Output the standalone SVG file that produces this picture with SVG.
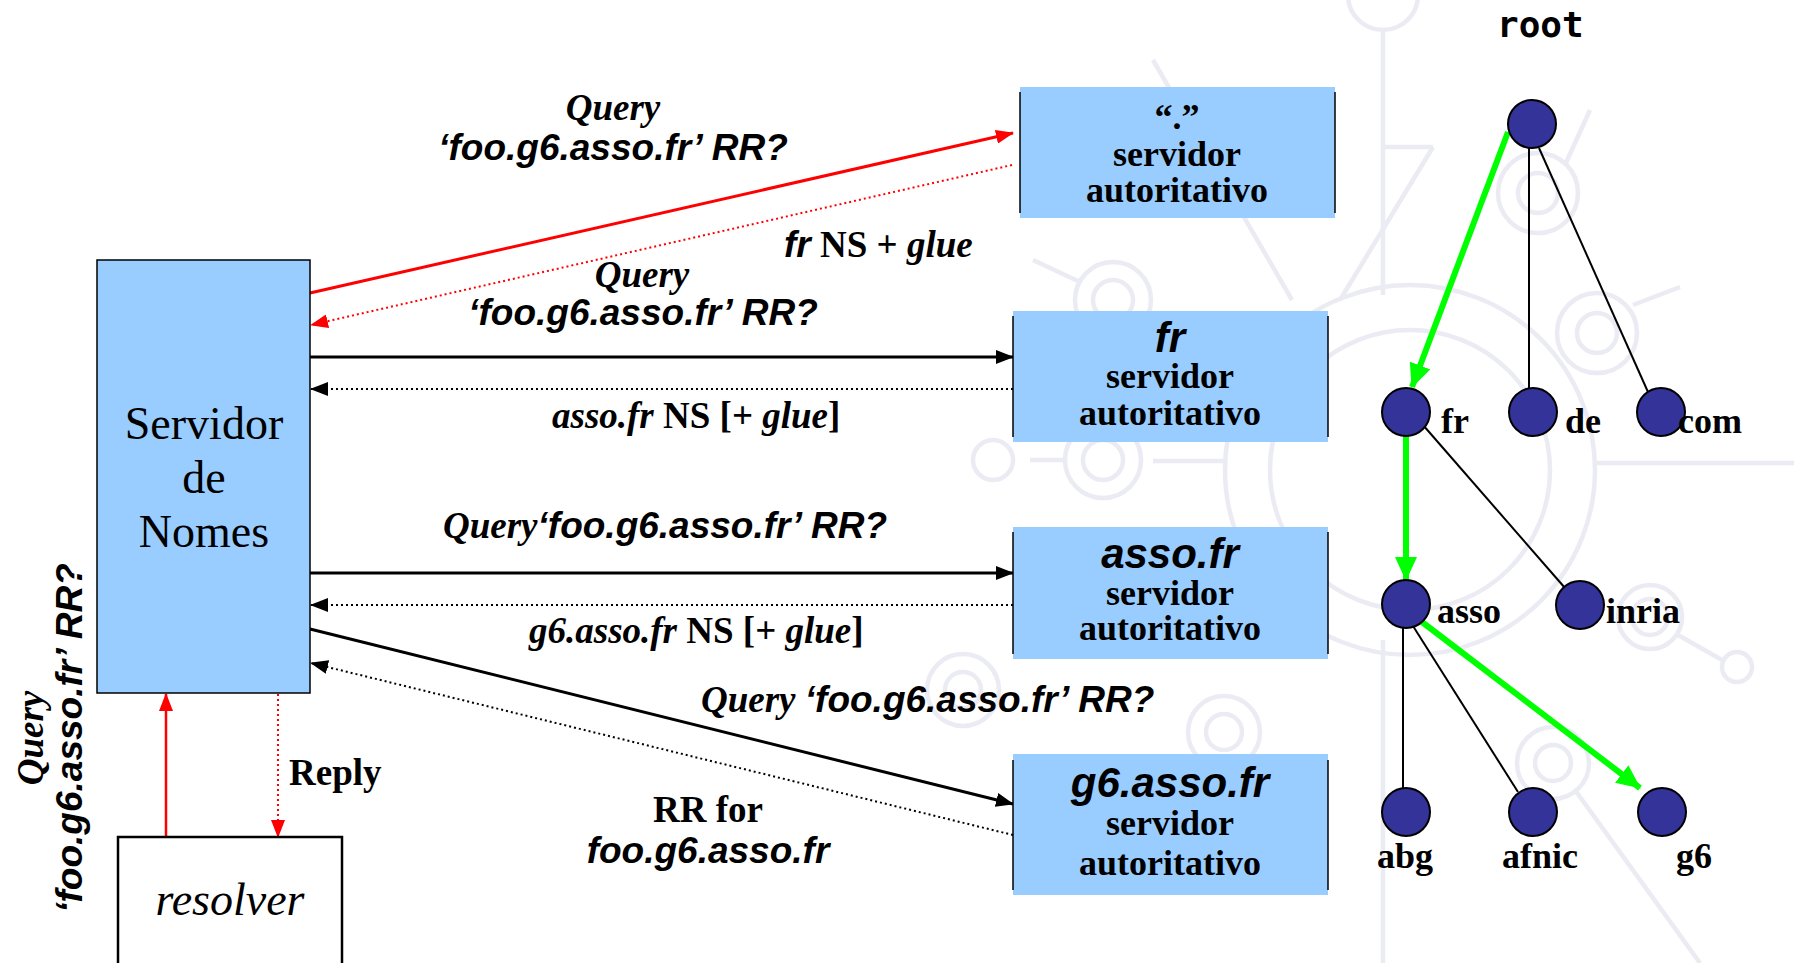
<svg xmlns="http://www.w3.org/2000/svg" width="1794" height="963" viewBox="0 0 1794 963">
<style>
.wm{fill:none;stroke:#EBEBF3;stroke-width:4.5}
.box{fill:#99CCFF}
.edge{stroke:#000;stroke-width:1.5}
.bt{font-family:"Liberation Serif",serif;font-weight:bold;font-size:36px;text-anchor:middle;fill:#000}
.bh{font-family:"Liberation Sans",Arial,sans-serif;font-weight:bold;font-style:italic;font-size:42px;text-anchor:middle;fill:#000}
.lbl{font-size:37px;fill:#000}
.ser{font-family:"Liberation Serif",serif;font-weight:bold}
.ti{font-family:"Liberation Serif",serif;font-weight:bold;font-style:italic}
.ai{font-family:"Liberation Sans",Arial,sans-serif;font-weight:bold;font-style:italic}
.node{fill:#333399;stroke:#000;stroke-width:2}
.tl{font-family:"Liberation Serif",serif;font-weight:bold;font-size:36px;fill:#000}
.tree{stroke:#000;stroke-width:2;fill:none}
.green{stroke:#00FF00;stroke-width:6;fill:none}
</style>
<defs>
<marker id="ar" markerUnits="userSpaceOnUse" markerWidth="18" markerHeight="14" refX="17" refY="7" orient="auto"><path d="M0,0 L18,7 L0,14 Z" fill="#FF0000"/></marker>
<marker id="ab" markerUnits="userSpaceOnUse" markerWidth="18" markerHeight="14" refX="17" refY="7" orient="auto"><path d="M0,0 L18,7 L0,14 Z" fill="#000"/></marker>
<marker id="ag" markerUnits="userSpaceOnUse" markerWidth="24" markerHeight="22" refX="23" refY="11" orient="auto"><path d="M0,0 L24,11 L0,22 Z" fill="#00FF00"/></marker>
</defs>
<rect width="1794" height="963" fill="#fff"/>
<g id="watermark" class="wm">
<circle cx="1410" cy="470" r="185"/>
<circle cx="1410" cy="470" r="140"/>
<line x1="1153" y1="461" x2="1225" y2="461"/>
<circle cx="1103" cy="460" r="38"/>
<circle cx="1103" cy="460" r="20"/>
<line x1="1030" y1="460" x2="1065" y2="460"/>
<circle cx="993" cy="460" r="20"/>
<line x1="1595" y1="463" x2="1794" y2="463"/>
<line x1="1383" y1="30" x2="1383" y2="295"/>
<circle cx="1383" cy="-5" r="35"/>
<line x1="1153" y1="60" x2="1292" y2="300"/>
<line x1="1433" y1="147" x2="1340" y2="300"/>
<line x1="1383" y1="147" x2="1433" y2="147"/>
<circle cx="1113" cy="300" r="38"/>
<circle cx="1113" cy="300" r="20"/>
<line x1="1033" y1="260" x2="1080" y2="282"/>
<circle cx="1538" cy="193" r="40"/>
<circle cx="1538" cy="193" r="20"/>
<line x1="1565" y1="165" x2="1590" y2="110"/>
<circle cx="1597" cy="333" r="40"/>
<circle cx="1597" cy="333" r="20"/>
<line x1="1633" y1="305" x2="1680" y2="287"/>
<circle cx="1650" cy="617" r="32"/>
<circle cx="1650" cy="617" r="18"/>
<line x1="1678" y1="635" x2="1722" y2="660"/>
<circle cx="1737" cy="667" r="15"/>
<circle cx="1553" cy="763" r="36"/>
<circle cx="1553" cy="763" r="18"/>
<line x1="1383" y1="640" x2="1383" y2="963"/>
<line x1="1575" y1="790" x2="1700" y2="963"/>
<circle cx="1224" cy="732" r="36"/>
<circle cx="1224" cy="732" r="18"/>
<circle cx="963" cy="690" r="36"/>
<circle cx="963" cy="690" r="18"/>
</g>
<g id="connectors">
<line x1="310" y1="293" x2="1013" y2="133" stroke="#FF0000" stroke-width="3" marker-end="url(#ar)"/>
<line x1="1012" y1="165" x2="311" y2="325" stroke="#FF0000" stroke-width="2" stroke-dasharray="2 3" marker-end="url(#ar)"/>
<line x1="310" y1="357" x2="1013" y2="357" stroke="#000" stroke-width="3" marker-end="url(#ab)"/>
<line x1="1013" y1="389" x2="311" y2="389" stroke="#000" stroke-width="2" stroke-dasharray="2 3" marker-end="url(#ab)"/>
<line x1="310" y1="573" x2="1013" y2="573" stroke="#000" stroke-width="3" marker-end="url(#ab)"/>
<line x1="1013" y1="605" x2="311" y2="605" stroke="#000" stroke-width="2" stroke-dasharray="2 3" marker-end="url(#ab)"/>
<line x1="310" y1="629" x2="1013" y2="804" stroke="#000" stroke-width="3" marker-end="url(#ab)"/>
<line x1="1013" y1="835" x2="311" y2="663" stroke="#000" stroke-width="2" stroke-dasharray="2 3" marker-end="url(#ab)"/>
<line x1="166" y1="837" x2="166" y2="694" stroke="#FF0000" stroke-width="2.5" marker-end="url(#ar)"/>
<line x1="278" y1="694" x2="278" y2="837" stroke="#FF0000" stroke-width="2" stroke-dasharray="2 3" marker-end="url(#ar)"/>
</g>
<g id="servidor-de-nomes">
<rect x="97" y="260" width="213" height="433" fill="#99CCFF" stroke="#000" stroke-width="1.5"/>
<text x="204" y="439" font-family="Liberation Serif,serif" font-size="46" text-anchor="middle">Servidor</text>
<text x="204" y="493" font-family="Liberation Serif,serif" font-size="46" text-anchor="middle">de</text>
<text x="204" y="547" font-family="Liberation Serif,serif" font-size="46" text-anchor="middle">Nomes</text>
</g>
<g id="resolver">
<rect x="118" y="837" width="224" height="140" fill="#fff" stroke="#000" stroke-width="2.5"/>
<text x="230" y="915" font-family="Liberation Serif,serif" font-style="italic" font-size="46" text-anchor="middle">resolver</text>
</g>
<g id="root-server">
<rect class="box" x="1020" y="87" width="315" height="131"/>
<line class="edge" x1="1020" y1="92" x2="1020" y2="213"/>
<line class="edge" x1="1335" y1="92" x2="1335" y2="213"/>
<text class="bt" x="1177" y="129">“.”</text>
<text class="bt" x="1177" y="166">servidor</text>
<text class="bt" x="1177" y="202">autoritativo</text>
</g>
<g id="fr-server">
<rect class="box" x="1013" y="311" width="315" height="131"/>
<line class="edge" x1="1013" y1="316" x2="1013" y2="437"/>
<line class="edge" x1="1328" y1="316" x2="1328" y2="437"/>
<text class="bh" x="1170" y="352">fr</text>
<text class="bt" x="1170" y="388">servidor</text>
<text class="bt" x="1170" y="425">autoritativo</text>
</g>
<g id="asso-server">
<rect class="box" x="1013" y="527" width="315" height="132"/>
<line class="edge" x1="1013" y1="532" x2="1013" y2="654"/>
<line class="edge" x1="1328" y1="532" x2="1328" y2="654"/>
<text class="bh" x="1170" y="568">asso.fr</text>
<text class="bt" x="1170" y="605">servidor</text>
<text class="bt" x="1170" y="640">autoritativo</text>
</g>
<g id="g6-server">
<rect class="box" x="1013" y="754" width="315" height="141"/>
<line class="edge" x1="1013" y1="760" x2="1013" y2="890"/>
<line class="edge" x1="1328" y1="760" x2="1328" y2="890"/>
<text class="bh" x="1170" y="797">g6.asso.fr</text>
<text class="bt" x="1170" y="835">servidor</text>
<text class="bt" x="1170" y="875">autoritativo</text>
</g>
<g id="labels" class="lbl">
<text class="ti" x="613" y="120" text-anchor="middle">Query</text>
<text class="ai" x="613" y="160" text-anchor="middle">‘foo.g6.asso.fr’ RR?</text>
<text x="784" y="257"><tspan class="ai">fr</tspan><tspan class="ser"> NS + </tspan><tspan class="ti">glue</tspan></text>
<text class="ti" x="642" y="287" text-anchor="middle">Query</text>
<text class="ai" x="643" y="325" text-anchor="middle">‘foo.g6.asso.fr’ RR?</text>
<text x="552" y="428"><tspan class="ti">asso.fr</tspan><tspan class="ser"> NS [+ </tspan><tspan class="ti">glue</tspan><tspan class="ser">]</tspan></text>
<text x="443" y="538"><tspan class="ti">Query</tspan><tspan class="ai">‘foo.g6.asso.fr’ RR?</tspan></text>
<text x="529" y="643"><tspan class="ti">g6.asso.fr</tspan><tspan class="ser"> NS [+ </tspan><tspan class="ti">glue</tspan><tspan class="ser">]</tspan></text>
<text x="701" y="712"><tspan class="ti">Query </tspan><tspan class="ai">‘foo.g6.asso.fr’ RR?</tspan></text>
<text class="ser" x="708" y="822" text-anchor="middle">RR for</text>
<text class="ai" x="708" y="863" text-anchor="middle">foo.g6.asso.fr</text>
<text class="ser" x="289" y="785">Reply</text>
<text class="ti" transform="translate(43,738) rotate(-90)" text-anchor="middle">Query</text>
<text class="ai" transform="translate(82,738) rotate(-90)" text-anchor="middle">‘foo.g6.asso.fr’ RR?</text>
</g>
<g id="tree-edges">
<line class="tree" x1="1529" y1="148" x2="1529" y2="390"/>
<line class="tree" x1="1539" y1="148" x2="1648" y2="392"/>
<line class="tree" x1="1423" y1="425" x2="1565" y2="588"/>
<line class="tree" x1="1403" y1="626" x2="1403" y2="790"/>
<line class="tree" x1="1413" y1="626" x2="1518" y2="792"/>
<line class="green" x1="1508" y1="132" x2="1412" y2="387" marker-end="url(#ag)"/>
<line class="green" x1="1406" y1="436" x2="1406" y2="580" marker-end="url(#ag)"/>
<line class="green" x1="1422" y1="622" x2="1640" y2="788" marker-end="url(#ag)"/>
</g>
<g id="tree-root"><circle class="node" cx="1532" cy="124" r="24"/><text x="1497" y="37" font-family="DejaVu Sans Mono,monospace" font-weight="bold" font-size="36">root</text></g>
<g id="tree-fr"><circle class="node" cx="1406" cy="412" r="24"/><text class="tl" x="1441" y="433">fr</text></g>
<g id="tree-de"><circle class="node" cx="1533" cy="412" r="24"/><text class="tl" x="1565" y="433">de</text></g>
<g id="tree-com"><circle class="node" cx="1661" cy="412" r="24"/><text class="tl" x="1678" y="433">com</text></g>
<g id="tree-asso"><circle class="node" cx="1406" cy="604" r="24"/><text class="tl" x="1437" y="623">asso</text></g>
<g id="tree-inria"><circle class="node" cx="1580" cy="605" r="24"/><text class="tl" x="1606" y="623">inria</text></g>
<g id="tree-abg"><circle class="node" cx="1406" cy="812" r="24"/><text class="tl" x="1405" y="868" text-anchor="middle">abg</text></g>
<g id="tree-afnic"><circle class="node" cx="1533" cy="812" r="24"/><text class="tl" x="1540" y="868" text-anchor="middle">afnic</text></g>
<g id="tree-g6"><circle class="node" cx="1662" cy="812" r="24"/><text class="tl" x="1694" y="868" text-anchor="middle">g6</text></g>
</svg>
